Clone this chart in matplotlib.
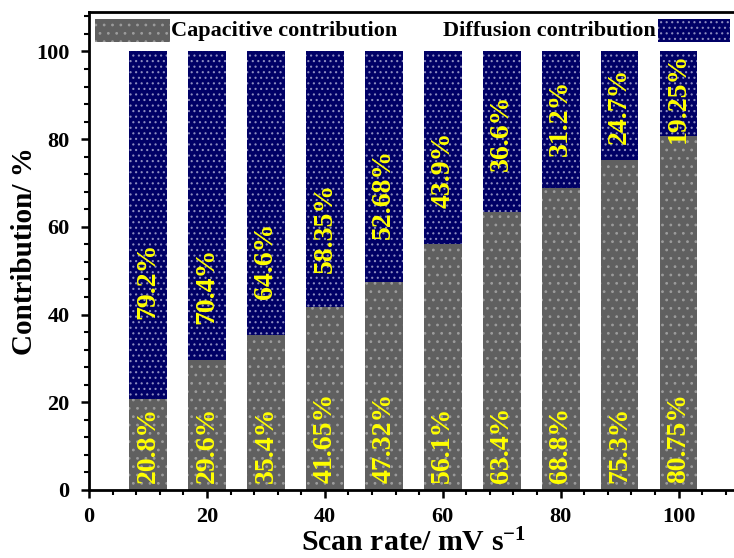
import matplotlib
matplotlib.use("Agg")
import matplotlib.pyplot as plt
from matplotlib.patches import Rectangle
from matplotlib.ticker import MultipleLocator

plt.rcParams['font.family'] = ['Liberation Serif', 'DejaVu Serif']
plt.rcParams['font.weight'] = 'bold'
plt.rcParams['mathtext.fontset'] = 'custom'
plt.rcParams['mathtext.rm'] = 'Liberation Serif:bold'
plt.rcParams['mathtext.default'] = 'rm'
plt.rcParams['hatch.linewidth'] = 0.8

# scan rates (mV/s) and contribution percentages
scan_rate = [10, 20, 30, 40, 50, 60, 70, 80, 90, 100]
capacitive = [20.8, 29.6, 35.4, 41.65, 47.32, 56.1, 63.4, 68.8, 75.3, 80.75]
diffusion = [79.2, 70.4, 64.6, 58.35, 52.68, 43.9, 36.6, 31.2, 24.7, 19.25]
cap_labels = ['20.8%', '29.6%', '35.4%', '41.65%', '47.32%',
              '56.1%', '63.4%', '68.8%', '75.3%', '80.75%']
dif_labels = ['79.2%', '70.4%', '64.6%', '58.35%', '52.68%',
              '43.9%', '36.6%', '31.2%', '24.7%', '19.25%']
# where the diffusion labels sit inside the blue part
dif_label_y = [47.7, 46.6, 52.3, 59.8, 67.6, 73.1, 81.5, 84.9, 87.7, 89.5]

gray = '#606060'
navy = '#000066'
gray_dot = '#9c9c9c'
navy_dot = '#8c8cc0'

fig = plt.figure(figsize=(7.34, 5.58), dpi=100)
ax = fig.add_axes([0.1213, 0.1219, 0.8835, 0.8566])

ax.bar(scan_rate, capacitive, width=6.4, color=gray, edgecolor=gray_dot,
       linewidth=0, hatch='..')
ax.bar(scan_rate, diffusion, width=6.4, bottom=capacitive, color=navy,
       edgecolor=navy_dot, linewidth=0, hatch='...')

for x, lab in zip(scan_rate, cap_labels):
    ax.text(x, 1.5, lab, rotation=90, ha='center', va='bottom',
            color='yellow', fontsize=20, fontweight='bold')
for x, lab, y in zip(scan_rate, dif_labels, dif_label_y):
    ax.text(x, y, lab, rotation=90, ha='center', va='center',
            color='yellow', fontsize=20, fontweight='bold')

ax.set_xlim(0, 110)
ax.set_ylim(0, 109)
ax.xaxis.set_major_locator(MultipleLocator(20))
ax.xaxis.set_minor_locator(MultipleLocator(4))
ax.yaxis.set_major_locator(MultipleLocator(20))
ax.yaxis.set_minor_locator(MultipleLocator(4))
ax.tick_params(which='major', direction='out', length=6, width=1.8,
               labelsize=16)
ax.tick_params(which='minor', direction='out', length=3.5, width=1.5)
ax.tick_params(axis='x', pad=6)
ax.tick_params(axis='y', pad=8)
for s in ax.spines.values():
    s.set_linewidth(2)

ax.set_xlabel('Scan rate/ mV s$^{-1}$', fontsize=21.5, fontweight='bold',
              labelpad=1.5)
ax.set_ylabel('Contribution/ %', fontsize=21, fontweight='bold', labelpad=-1)

# legend keys drawn at the top of the frame
ax.add_patch(Rectangle((0.0099, 0.937), 0.1143, 0.048, transform=ax.transAxes,
                       facecolor=gray, edgecolor=gray_dot, linewidth=0,
                       hatch='..', clip_on=False))
ax.text(0.126, 0.961, 'Capacitive contribution', transform=ax.transAxes,
        ha='left', va='center', fontsize=16, fontweight='bold')
ax.add_patch(Rectangle((0.877, 0.937), 0.1113, 0.048, transform=ax.transAxes,
                       facecolor=navy, edgecolor=navy_dot, linewidth=0,
                       hatch='...', clip_on=False))
ax.text(0.874, 0.961, 'Diffusion contribution', transform=ax.transAxes,
        ha='right', va='center', fontsize=16, fontweight='bold')

fig.savefig('out.png', dpi=100)
